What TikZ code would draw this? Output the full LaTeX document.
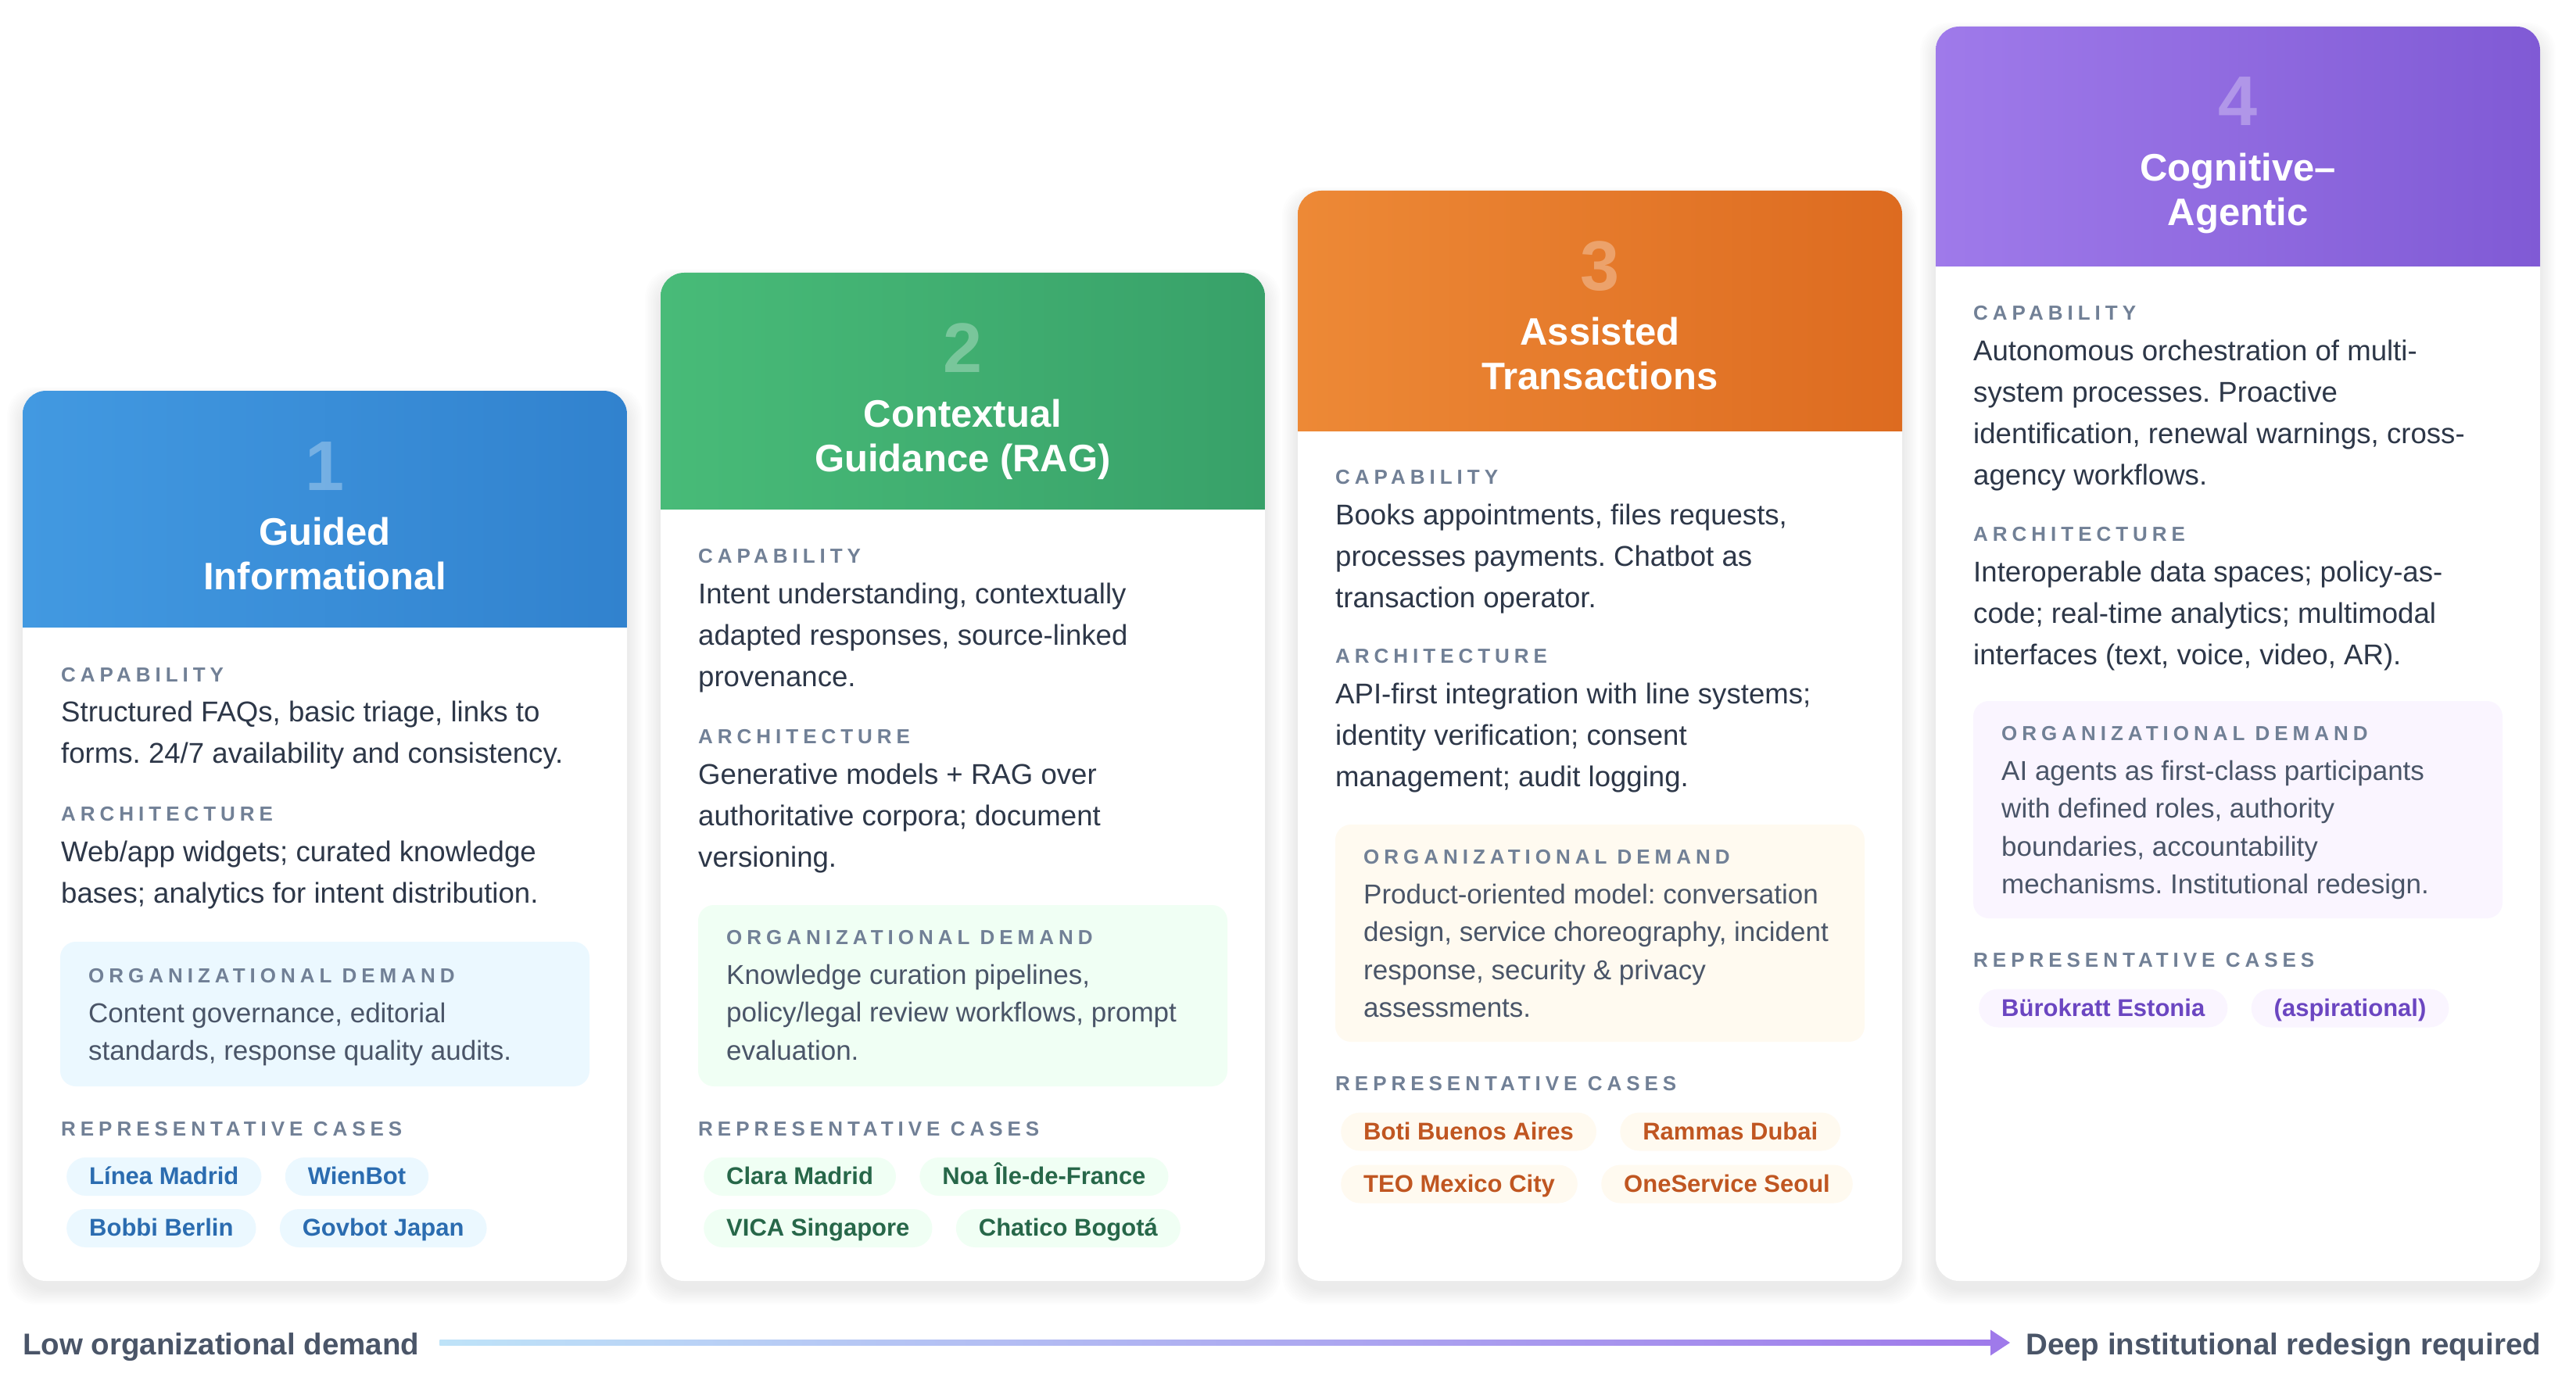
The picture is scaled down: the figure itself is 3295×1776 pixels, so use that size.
\documentclass[tikz,border=0pt]{standalone}
\usepackage{fontspec}
\setmainfont{Liberation Sans}
\newfontfamily\labfont{Liberation Sans}[LetterSpace=23]
\usetikzlibrary{calc}
\frenchspacing
\definecolor{bA}{HTML}{4299E1}\definecolor{bB}{HTML}{3182CE}\definecolor{bL}{HTML}{EBF8FF}\definecolor{bT}{HTML}{2B6CB0}
\definecolor{gA}{HTML}{48BB78}\definecolor{gB}{HTML}{38A169}\definecolor{gL}{HTML}{F0FFF4}\definecolor{gT}{HTML}{276749}
\definecolor{oA}{HTML}{ED8936}\definecolor{oB}{HTML}{DD6B20}\definecolor{oL}{HTML}{FFFAF0}\definecolor{oT}{HTML}{C05621}
\definecolor{pA}{HTML}{9F7AEA}\definecolor{pB}{HTML}{805AD5}\definecolor{pL}{HTML}{FAF5FF}\definecolor{pT}{HTML}{6B46C1}
\definecolor{labc}{HTML}{718096}\definecolor{bodyc}{HTML}{2D3748}\definecolor{orgc}{HTML}{4A5568}
\definecolor{arrA}{HTML}{BEE3F8}\definecolor{arrB}{HTML}{9F7AEA}
\newcommand\rA{\rule{0pt}{33pt}}
\newcommand\rB{\rule{0pt}{31pt}}
\newcommand\rC{\rule{0pt}{44pt}}
\newcommand\cardshadow[4]{\foreach \s in {1,...,10}{\fill[black,opacity=0.006,rounded corners=36pt] ({#1-2*\s},{#2+10-1.5*\s}) rectangle ({#3+2*\s},{#4+10+2*\s});}}
\newcommand\cardbase[6]{% x1 yt x2 yh colA colB
  \cardshadow{#1}{#2}{#3}{1639}
  \fill[white,rounded corners=30pt] (#1,#2) rectangle (#3,1639);
  \begin{scope}
    \clip[rounded corners=30pt] (#1,#2) rectangle (#3,#4+60);
    \shade[left color=#5,right color=#6] (#1,#2) rectangle (#3,#4);
  \end{scope}
}
\tikzset{
 lbl/.style={anchor=base west,inner sep=0pt,text=labc,font=\labfont\bfseries\fontsize{26}{30}\selectfont},
 txt/.style={anchor=north west,inner sep=0pt,align=left,text=bodyc,font=\fontsize{36.6}{53}\selectfont},
 otxt/.style={anchor=north west,inner sep=0pt,align=left,text=orgc,font=\fontsize{35}{48.5}\selectfont},
 num/.style={anchor=base,inner sep=0pt,text=white,text opacity=0.3,font=\bfseries\fontsize{90}{90}\selectfont},
 ttl/.style={anchor=north,inner sep=0pt,text=white,align=center,font=\bfseries\fontsize{49}{57}\selectfont},
 pill/.style={anchor=west,rounded corners=24.5pt,minimum height=49pt,inner xsep=29pt,inner ysep=0pt,text height=22pt,text depth=2pt,font=\bfseries\fontsize{31}{31}\selectfont},
 bot/.style={anchor=base west,inner sep=0pt,text=orgc,font=\bfseries\fontsize{38.5}{40}\selectfont},
}
\begin{document}
\begin{tikzpicture}[x=1pt,y=-1pt]
\useasboundingbox (0,0) rectangle (3295,1776);
\fill[white] (0,0) rectangle (3295,1776);
% ---------- Card 1
\cardbase{29}{500}{802}{802}{bA}{bB}
\fill[bL,rounded corners=20pt] (77,1205) rectangle (754,1390);
\node[num] (c1n) at (415.5,627) {1};
\node[ttl] (c1t) at (415.5,653) {\rC Guided\\Informational};
\node[lbl] (c1cl) at (78,872) {CAPABILITY};
\node[txt] (c1c) at (78,890) {\rA Structured FAQs, basic triage, links to\\forms. 24/7 availability and consistency.};
\node[lbl] (c1al) at (78,1050) {ARCHITECTURE};
\node[txt] (c1a) at (78,1069) {\rA Web/app widgets; curated knowledge\\bases; analytics for intent distribution.};
\node[lbl] (c1ol) at (113,1257) {ORGANIZATIONAL DEMAND};
\node[otxt] (c1o) at (113,1277) {\rB Content governance, editorial\\standards, response quality audits.};
\node[lbl] (c1rl) at (78,1453) {REPRESENTATIVE CASES};
\node[pill,fill=bL,text=bT] (c1p1) at (85,1505.5) {Línea Madrid};
\node[pill,fill=bL,text=bT] (c1p2) at ($(c1p1.east)+(30,0)$) {WienBot};
\node[pill,fill=bL,text=bT] (c1p3) at (85,1571.5) {Bobbi Berlin};
\node[pill,fill=bL,text=bT] (c1p4) at ($(c1p3.east)+(30,0)$) {Govbot Japan};
% ---------- Card 2
\cardbase{845}{349}{1618}{651}{gA}{gB}
\fill[gL,rounded corners=20pt] (893,1158) rectangle (1570,1390);
\node[num] (c2n) at (1231.5,476) {2};
\node[ttl] (c2t) at (1231.5,502) {\rC Contextual\\Guidance (RAG)};
\node[lbl] (c2cl) at (893,720) {CAPABILITY};
\node[txt] (c2c) at (893,739) {\rA Intent understanding, contextually\\adapted responses, source-linked\\provenance.};
\node[lbl] (c2al) at (893,951) {ARCHITECTURE};
\node[txt] (c2a) at (893,970) {\rA Generative models + RAG over\\authoritative corpora; document\\versioning.};
\node[lbl] (c2ol) at (929,1208) {ORGANIZATIONAL DEMAND};
\node[otxt] (c2o) at (929,1228) {\rB Knowledge curation pipelines,\\policy/legal review workflows, prompt\\evaluation.};
\node[lbl] (c2rl) at (893,1453) {REPRESENTATIVE CASES};
\node[pill,fill=gL,text=gT] (c2p1) at (900,1505.5) {Clara Madrid};
\node[pill,fill=gL,text=gT] (c2p2) at ($(c2p1.east)+(30,0)$) {Noa Île-de-France};
\node[pill,fill=gL,text=gT] (c2p3) at (900,1571.5) {VICA Singapore};
\node[pill,fill=gL,text=gT] (c2p4) at ($(c2p3.east)+(30,0)$) {Chatico Bogotá};
% ---------- Card 3
\cardbase{1660}{244}{2433}{551}{oA}{oB}
\fill[oL,rounded corners=20pt] (1708,1055) rectangle (2385,1333);
\node[num] (c3n) at (2046.5,371) {3};
\node[ttl] (c3t) at (2046.5,397) {\rC Assisted\\Transactions};
\node[lbl] (c3cl) at (1708,619) {CAPABILITY};
\node[txt] (c3c) at (1708,638) {\rA Books appointments, files requests,\\processes payments. Chatbot as\\transaction operator.};
\node[lbl] (c3al) at (1708,848) {ARCHITECTURE};
\node[txt] (c3a) at (1708,867) {\rA API-first integration with line systems;\\identity verification; consent\\management; audit logging.};
\node[lbl] (c3ol) at (1744,1105) {ORGANIZATIONAL DEMAND};
\node[otxt] (c3o) at (1744,1125) {\rB Product-oriented model: conversation\\design, service choreography, incident\\response, security \& privacy\\assessments.};
\node[lbl] (c3rl) at (1708,1395) {REPRESENTATIVE CASES};
\node[pill,fill=oL,text=oT] (c3p1) at (1715,1448) {Boti Buenos Aires};
\node[pill,fill=oL,text=oT] (c3p2) at ($(c3p1.east)+(30,0)$) {Rammas Dubai};
\node[pill,fill=oL,text=oT] (c3p3) at (1715,1515) {TEO Mexico City};
\node[pill,fill=oL,text=oT] (c3p4) at ($(c3p3.east)+(30,0)$) {OneService Seoul};
% ---------- Card 4
\cardbase{2476}{34}{3249}{341}{pA}{pB}
\fill[pL,rounded corners=20pt] (2524,897) rectangle (3201,1175);
\node[num] (c4n) at (2862.5,161) {4};
\node[ttl] (c4t) at (2862.5,187) {\rC Cognitive–\\Agentic};
\node[lbl] (c4cl) at (2524,409) {CAPABILITY};
\node[txt] (c4c) at (2524,428) {\rA Autonomous orchestration of multi-\\system processes. Proactive\\identification, renewal warnings, cross-\\agency workflows.};
\node[lbl] (c4al) at (2524,692) {ARCHITECTURE};
\node[txt] (c4a) at (2524,711) {\rA Interoperable data spaces; policy-as-\\code; real-time analytics; multimodal\\interfaces (text, voice, video, AR).};
\node[lbl] (c4ol) at (2560,947) {ORGANIZATIONAL DEMAND};
\node[otxt] (c4o) at (2560,967) {\rB AI agents as first-class participants\\with defined roles, authority\\boundaries, accountability\\mechanisms. Institutional redesign.};
\node[lbl] (c4rl) at (2524,1237) {REPRESENTATIVE CASES};
\node[pill,fill=pL,text=pT] (c4p1) at (2531,1290) {Bürokratt Estonia};
\node[pill,fill=pL,text=pT] (c4p2) at ($(c4p1.east)+(30,0)$) {(aspirational)};
% ---------- bottom axis
\node[bot] (low) at (29,1733) {Low organizational demand};
\node[bot] (deep) at (2591,1733) {Deep institutional redesign required};
\coordinate (aS) at ($(low.base east)+(26,-15)$);
\coordinate (aT) at ($(deep.base west)+(-20,-15)$);
\shade[left color=arrA,right color=arrB] ($(aS)+(0,-3.5)$) rectangle ($(aT)+(-24,3.5)$);
\fill[arrB] (aT) -- ++(-25,-16.5) -- ++(0,33) -- cycle;
\end{tikzpicture}
\end{document}
